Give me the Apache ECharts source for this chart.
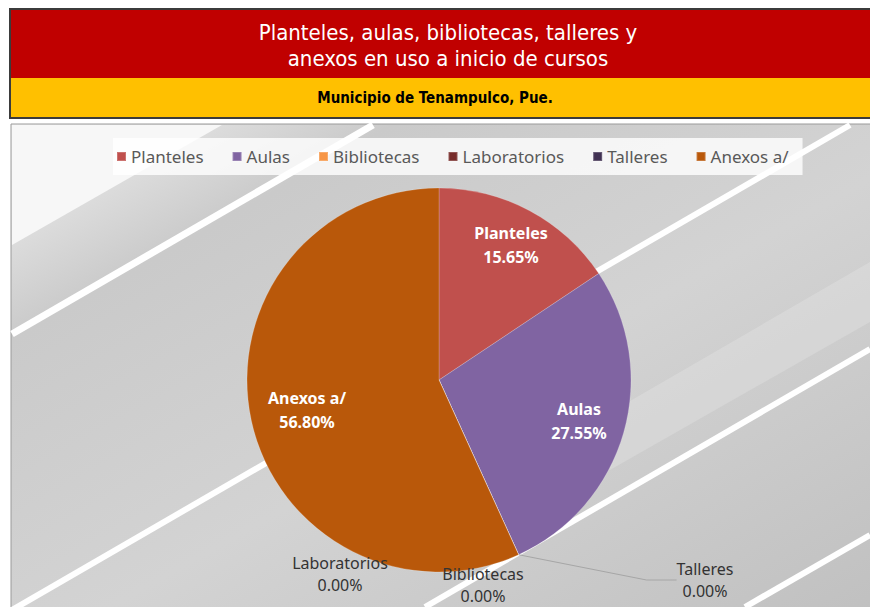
<!DOCTYPE html>
<html lang="es">
<head>
    <meta charset="UTF-8">
    <title>Planteles, aulas, bibliotecas, talleres y anexos</title>
    <script src="https://cdn.jsdelivr.net/npm/echarts@6/dist/echarts.min.js"></script>
    <style>
        html, body { margin: 0; padding: 0; background: #fff; }
        #grafica { width: 870px; height: 607px; }
    </style>
</head>
<body>
<div id="grafica"></div>
<script type="text/javascript">
    // datos
    var categorias = ['Planteles', 'Aulas', 'Bibliotecas', 'Laboratorios', 'Talleres', 'Anexos a/'];
    var valores = [46, 81, 0, 0, 0, 167];
    var colores = ['#C0504D', '#8064A2', '#F79646', '#772C2A', '#403152', '#B9580A'];
    var tituloLineas = ['Planteles, aulas, bibliotecas, talleres y', 'anexos en uso a inicio de cursos'];
    var subtitulo = 'Municipio de Tenampulco, Pue.';

    // donde van las etiquetas (centro del texto)
    var posEtiquetas = [[511, 245], [579, 421], [483, 585], [340, 574], [705, 580], [307, 410]];

    var fuente = '"Noto Sans", "Open Sans", sans-serif';
    var fuenteTitulo = '"Liberation Sans Narrow", "DejaVu Sans Condensed", "Liberation Sans", sans-serif';

    var etiquetaDentro = { show: true, position: 'inside', color: '#fff', fontWeight: 'bold', fontSize: 16, lineHeight: 24, fontFamily: fuente };
    var etiquetaFuera = { show: true, position: 'outside', color: '#333', fontSize: 16, lineHeight: 22, fontFamily: fuente };

    var datos = categorias.map(function (c, i) {
        return {
            name: c,
            value: valores[i],
            label: valores[i] > 0 ? etiquetaDentro : etiquetaFuera,
            labelLine: { show: c === 'Talleres', lineStyle: { color: '#a6a6a6', width: 1 } }
        };
    });

    var myChart = echarts.init(document.getElementById('grafica'), null, { renderer: 'svg' });

    myChart.setOption({
        animation: false,
        color: colores,
        graphic: {
            elements: [
                // fondo del area de la grafica
                { type: 'rect', z: -10, shape: { x: 11, y: 124, width: 870, height: 490 },
                  style: { stroke: '#9a9a9a', lineWidth: 1,
                      fill: new echarts.graphic.LinearGradient(0, 0, 1, 1, [
                          { offset: 0, color: '#f2f2f2' },
                          { offset: 0.22, color: '#cacaca' },
                          { offset: 0.55, color: '#d3d3d3' },
                          { offset: 1, color: '#c0c0c0' }
                      ]) } },
                { type: 'polygon', z: -9, shape: { points: [[12, 125], [12, 245], [222, 125]] }, style: { fill: '#f7f7f7' } },
                { type: 'polygon', z: -9, shape: { points: [[580, 430], [870, 262], [870, 322], [610, 470]] }, style: { fill: 'rgba(255,255,255,0.18)' } },
                { type: 'line', z: -8, shape: { x1: 12, y1: 334, x2: 373, y2: 125 }, style: { stroke: '#fff', lineWidth: 7 } },
                { type: 'line', z: -8, shape: { x1: 12, y1: 610, x2: 850, y2: 125 }, style: { stroke: '#fff', lineWidth: 6 } },
                { type: 'line', z: -8, shape: { x1: 425, y1: 607, x2: 870, y2: 349 }, style: { stroke: '#fff', lineWidth: 6 } },
                { type: 'line', z: -8, shape: { x1: 745, y1: 607, x2: 870, y2: 535 }, style: { stroke: '#fff', lineWidth: 6 } },
                // encabezado rojo y amarillo
                { type: 'rect', z: -5, shape: { x: 10, y: 9, width: 870, height: 69 }, style: { fill: '#C00000' } },
                { type: 'rect', z: -5, shape: { x: 10, y: 78, width: 870, height: 40 }, style: { fill: '#FFC000' } },
                { type: 'rect', z: -4, shape: { x: 10, y: 9, width: 870, height: 109 }, style: { fill: 'none', stroke: '#3b3b3b', lineWidth: 2 } },
                { type: 'text', z: 5, x: 448, y: 32, style: { text: tituloLineas[0], fill: '#fff', font: '22px ' + fuenteTitulo, align: 'center', verticalAlign: 'middle' } },
                { type: 'text', z: 5, x: 448, y: 58, style: { text: tituloLineas[1], fill: '#fff', font: '22px ' + fuenteTitulo, align: 'center', verticalAlign: 'middle' } },
                { type: 'text', z: 5, x: 435, y: 98, style: { text: subtitulo, fill: '#000', font: 'bold 15px ' + fuenteTitulo, align: 'center', verticalAlign: 'middle' } }
            ]
        },
        legend: {
            data: categorias,
            left: 113,
            top: 138,
            padding: [10, 14, 10, 3],
            itemGap: 28,
            itemWidth: 9,
            itemHeight: 9,
            icon: 'rect',
            backgroundColor: 'rgba(255,255,255,0.8)',
            textStyle: { color: '#595959', fontSize: 17, fontFamily: fuente }
        },
        series: [
            {
                name: 'Infraestructura',
                type: 'pie',
                center: [439, 380],
                radius: 192,
                startAngle: 90,
                clockwise: true,
                avoidLabelOverlap: false,
                itemStyle: { borderColor: 'rgba(255,255,255,0.2)', borderWidth: 1 },
                emphasis: { scale: false },
                label: {
                    formatter: function (p) {
                        return p.name + '\n' + p.percent.toFixed(2) + '%';
                    }
                },
                labelLayout: function (params) {
                    var p = posEtiquetas[params.dataIndex];
                    return { x: p[0], y: p[1], align: 'center', verticalAlign: 'middle' };
                },
                data: datos
            }
        ]
    });
</script>
</body>
</html>
